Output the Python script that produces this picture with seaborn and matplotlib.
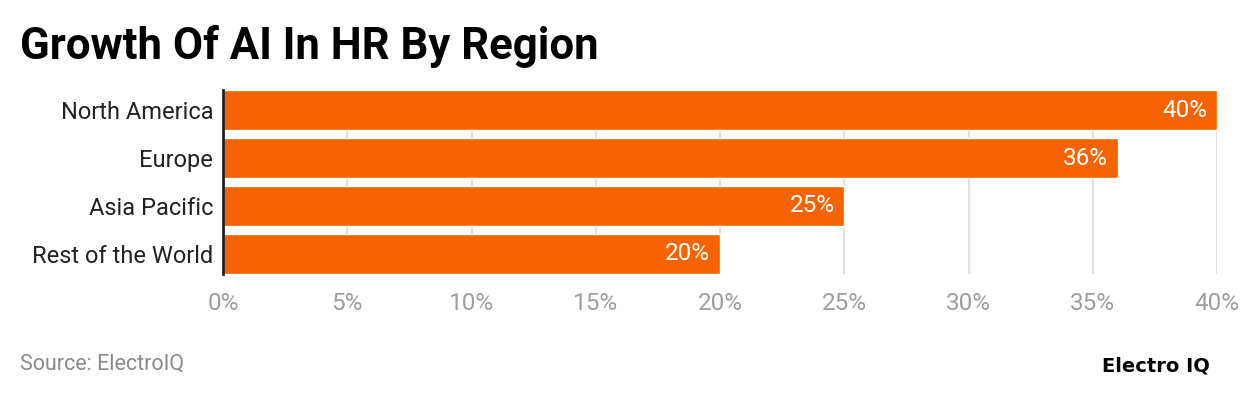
import matplotlib
matplotlib.use("Agg")
import matplotlib.pyplot as plt
import seaborn as sns
import pandas as pd

regions = ["North America", "Europe", "Asia Pacific", "Rest of the World"]
values = [40, 36, 25, 20]
xticks = [0, 5, 10, 15, 20, 25, 30, 35, 40]

sns.set_theme(style="white")
plt.rcParams['font.family'] = ['Roboto', 'DejaVu Sans']

df = pd.DataFrame({"region": regions, "value": values})

W, H = 1240, 396
fig = plt.figure(figsize=(W / 100, H / 100), dpi=100)
ax = fig.add_axes([223 / W, 1 - 274 / H, (1217 - 223) / W, (274 - 90) / H])

sns.barplot(data=df, x="value", y="region", color="#F76300", saturation=1,
            width=0.833, ax=ax, zorder=3)

ax.set_xlim(0, 40)
ax.set_ylim(3.417, -0.417)
ax.set_xticks(xticks)
ax.set_xticklabels([f"{t}%" for t in xticks], fontsize=17.5, color="#9e9e9e")
ax.tick_params(axis="x", length=0, pad=13)
ax.tick_params(axis="y", length=0, pad=7, labelsize=17, labelcolor="#222222")
ax.set_xlabel("")
ax.set_ylabel("")
ax.xaxis.grid(True, color="#e0e0e0", linewidth=1.5, zorder=0)
for s in ["top", "right", "bottom"]:
    ax.spines[s].set_visible(False)
ax.spines["left"].set_color("#222222")
ax.spines["left"].set_linewidth(2)
ax.spines["left"].set_zorder(5)

for i, v in enumerate(values):
    ax.annotate(f"{v}%", xy=(v, i), xytext=(-7, 0), textcoords="offset points",
                ha="right", va="center", color="white", fontsize=17.5, zorder=6)

fig.text(20 / W, 1 - 47 / H, "Growth Of AI In HR By Region", fontsize=31.5,
         fontweight="bold", color="#000000", ha="left", va="center")
fig.text(20 / W, 1 - 364 / H, "Source: ElectroIQ", fontsize=15.5,
         color="#8a8a8a", ha="left", va="center")
fig.text(1210 / W, 1 - 366 / H, "Electro IQ", fontsize=14, family="DejaVu Sans",
         fontweight="bold", color="#000000", ha="right", va="center")

fig.savefig("out.png", dpi=100)
